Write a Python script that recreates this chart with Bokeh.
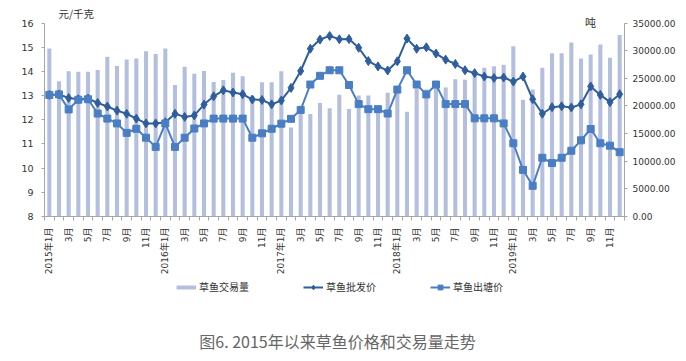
import numpy as np
from bokeh.plotting import figure
from bokeh.layouts import column
from bokeh.models import (Range1d, LinearAxis, FixedTicker, Legend, LegendItem,
                          Label, NumeralTickFormatter)
from bokeh.embed import file_html
from bokeh.resources import INLINE

months = []
for yr in range(2015, 2020):
    for m in range(1, 13):
        months.append(f"{yr}年{m}月" if m == 1 else f"{m}月")

volume = [30400, 24500, 26300, 26200, 26200, 26500, 28900, 27250, 28400, 28600, 29900, 29400,
          30400, 23800, 27100, 25850, 26350, 24350, 24700, 26000, 25400, 21850, 24300, 24300,
          26300, 16100, 18700, 18550, 20550, 19600, 22050, 19450, 21900, 21900, 19300, 22400,
          23000, 18950, 23100, 23000, 23500, 23350, 24850, 24750, 25550, 26900, 27200, 27450,
          30800, 21150, 23000, 26900, 29550, 29550, 31500, 28600, 29300, 31150, 28750, 32850]

wholesale = [13.03, 13.05, 12.90, 12.85, 12.88, 12.70, 12.55, 12.38, 12.25, 12.05, 11.85, 11.85,
             11.90, 12.25, 12.12, 12.18, 12.63, 12.97, 13.22, 13.13, 13.06, 12.84, 12.82, 12.64,
             12.80, 13.32, 14.02, 14.94, 15.32, 15.47, 15.33, 15.34, 14.98, 14.43, 14.21, 14.04,
             14.42, 15.36, 14.94, 15.00, 14.74, 14.49, 14.31, 14.05, 13.93, 13.79, 13.73, 13.75,
             13.58, 13.79, 12.85, 12.25, 12.52, 12.56, 12.51, 12.64, 13.38, 13.03, 12.73, 13.06]

pond = [13.03, 13.05, 12.43, 12.83, 12.85, 12.26, 12.05, 11.85, 11.46, 11.63, 11.26, 10.88,
        11.85, 10.88, 11.26, 11.64, 11.85, 12.05, 12.05, 12.05, 12.05, 11.26, 11.44, 11.63,
        11.84, 12.04, 12.41, 13.46, 13.82, 14.05, 14.05, 13.44, 12.65, 12.44, 12.44, 12.26,
        13.25, 14.05, 13.46, 13.05, 13.46, 12.65, 12.65, 12.65, 12.06, 12.06, 12.06, 11.85,
        11.03, 9.93, 9.27, 10.43, 10.21, 10.43, 10.72, 11.15, 11.62, 11.03, 10.93, 10.66]

left_ticks = [8, 9, 10, 11, 12, 13, 14, 15, 16]
right_ticks = [0, 5000, 10000, 15000, 20000, 25000, 30000, 35000]

names = ["草鱼交易量", "草鱼批发价", "草鱼出塘价"]
caption = "图6. 2015年以来草鱼价格和交易量走势"

BAR = "#B3BFDC"
WHOLE = "#2F5E9C"
POND = "#4A7EC4"
AXIS = "#A6A6A6"
TXT = "#333333"
NUMFONT = "DejaVu Sans, Noto Sans CJK SC"
CJK = "Noto Sans CJK SC"

W = 678
TOP_H = 277
BOT_H = 76

# frame: 212 px tall, axis values 8..16 occupy the lower 194.3 px
FRAME_H = 212.0
AX_H = 194.3
left_top = 8 + 8 * FRAME_H / AX_H
right_top = 35000 * FRAME_H / AX_H

x = list(range(len(months)))

p = figure(width=W, height=TOP_H, output_backend="svg", toolbar_location=None,
           x_range=Range1d(-0.5, len(months) - 0.5), y_range=Range1d(8, left_top),
           min_border_left=44, min_border_right=54, min_border_top=5, min_border_bottom=60)
p.outline_line_color = None
p.grid.visible = False
p.extra_y_ranges = {"right": Range1d(0, right_top)}

p.vbar(x=x, top=volume, width=0.42, bottom=0, y_range_name="right",
       fill_color=BAR, line_color=None)
p.line(x=x, y=wholesale, line_color=WHOLE, line_width=2)
p.scatter(x=x, y=wholesale, marker="diamond", size=9, fill_color=WHOLE, line_color=WHOLE)
p.line(x=x, y=pond, line_color=POND, line_width=2)
p.scatter(x=x, y=pond, marker="square", size=7, fill_color=POND, line_color=POND)

# x axis
xa = p.xaxis[0]
xa.ticker = FixedTicker(ticks=list(range(0, len(months), 2)),
                        minor_ticks=[i + 0.5 for i in range(-1, len(months))])
xa.major_label_overrides = {i: months[i] for i in range(0, len(months), 2)}
xa.major_label_orientation = np.pi / 2
xa.major_tick_line_color = None
xa.major_tick_out = 0
xa.major_tick_in = 0
xa.minor_tick_out = 4
xa.minor_tick_in = 0
xa.minor_tick_line_color = AXIS
xa.axis_line_color = AXIS
xa.major_label_standoff = 7
xa.major_label_text_font = NUMFONT
xa.major_label_text_font_size = "9px"
xa.major_label_text_color = TXT

# left axis
ya = p.yaxis[0]
ya.ticker = FixedTicker(ticks=left_ticks)
ya.bounds = (8, 16)
ya.minor_tick_line_color = None
ya.major_tick_out = 3
ya.major_tick_in = 0
ya.major_tick_line_color = AXIS
ya.axis_line_color = AXIS
ya.major_label_standoff = 8
ya.major_label_text_font = NUMFONT
ya.major_label_text_font_size = "9.5px"
ya.major_label_text_color = TXT

# right axis
ra = LinearAxis(y_range_name="right", ticker=FixedTicker(ticks=right_ticks),
                formatter=NumeralTickFormatter(format="0.00"), bounds=(0, 35000))
ra.minor_tick_line_color = None
ra.major_tick_out = 3
ra.major_tick_in = 0
ra.major_tick_line_color = AXIS
ra.axis_line_color = AXIS
ra.major_label_standoff = 5
ra.major_label_text_font = NUMFONT
ra.major_label_text_font_size = "9px"
ra.major_label_text_color = TXT
p.add_layout(ra, "right")

# unit labels (inside the extended frame)
p.add_layout(Label(x=14, y=203, x_units="screen", y_units="screen", text="元/千克",
                   text_font=CJK, text_font_size="10.5px", text_color=TXT,
                   text_baseline="middle", text_align="left"))
p.add_layout(Label(x=546, y=195, x_units="screen", y_units="screen", text="吨",
                   text_font=CJK, text_font_size="11px", text_color=TXT,
                   text_baseline="middle", text_align="center"))

# lower strip: legend and caption (its frame is aligned with the chart's, x starts at 44px)
q = figure(width=W, height=BOT_H, output_backend="svg", toolbar_location=None,
           x_range=Range1d(0, 580), y_range=Range1d(0, BOT_H),
           x_axis_location=None, y_axis_location=None,
           min_border_left=44, min_border_right=54, min_border_top=0, min_border_bottom=0)
q.outline_line_color = None
q.grid.visible = False

off = dict(x=[-1000], y=[-1000])
s_bar = q.line(x=off["x"], y=off["y"], line_color=BAR, line_width=4)
s_wl = q.line(x=off["x"], y=off["y"], line_color=WHOLE, line_width=2)
s_wm = q.scatter(x=off["x"], y=off["y"], marker="diamond", size=9, fill_color=WHOLE, line_color=WHOLE)
s_pl = q.line(x=off["x"], y=off["y"], line_color=POND, line_width=2)
s_pm = q.scatter(x=off["x"], y=off["y"], marker="square", size=7, fill_color=POND, line_color=POND)

legend = Legend(items=[LegendItem(label=names[0], renderers=[s_bar]),
                       LegendItem(label=names[1], renderers=[s_wl, s_wm]),
                       LegendItem(label=names[2], renderers=[s_pl, s_pm])],
                orientation="horizontal", location=(132, 59), margin=0, padding=0,
                spacing=54, glyph_width=20, glyph_height=12, label_height=12,
                label_standoff=3, label_text_font=CJK, label_text_font_size="10px",
                label_text_color=TXT, border_line_color=None, background_fill_alpha=0)
q.add_layout(legend, "center")

q.add_layout(Label(x=293, y=13, x_units="screen", y_units="screen", text=caption,
                   text_font=CJK, text_font_size="16px", text_color="#666666",
                   text_baseline="middle", text_align="center"))

layout = column(p, q, spacing=0)
open("out.html", "w").write(file_html(layout, INLINE))
